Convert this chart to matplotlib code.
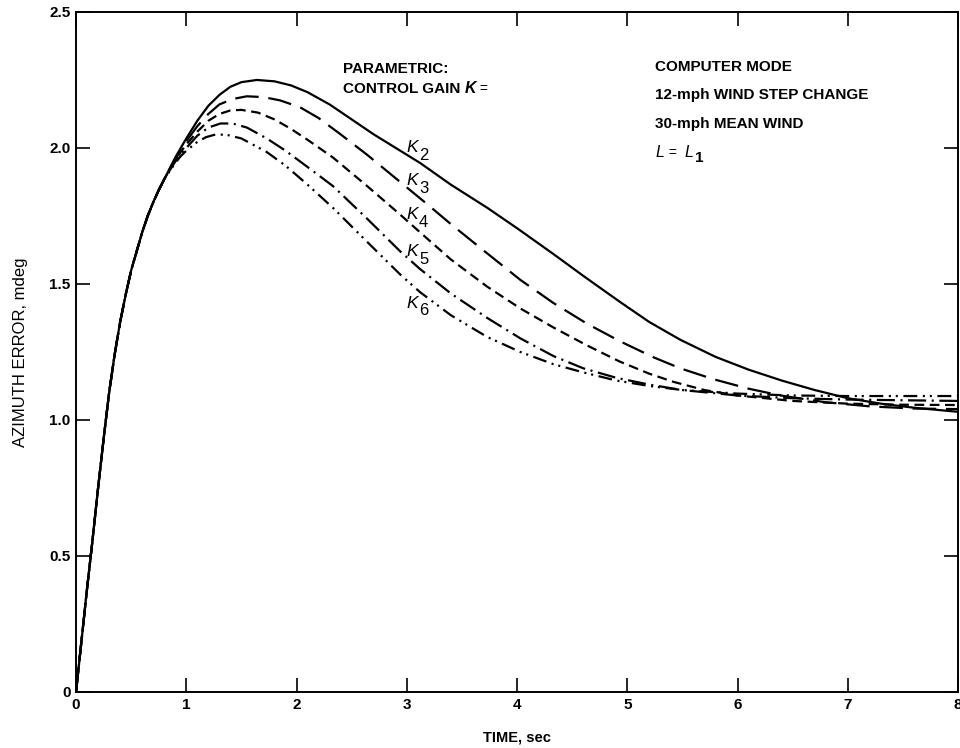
import numpy as np
import matplotlib
matplotlib.use('Agg')
import matplotlib.pyplot as plt

plt.rcParams['font.family'] = ['Liberation Sans', 'DejaVu Sans']
plt.rcParams['lines.scale_dashes'] = False

# common rising part (all gains overlap here)
rise_t = [0, 0.05, 0.1, 0.15, 0.2, 0.25, 0.3, 0.35, 0.4, 0.45, 0.5, 0.55, 0.6, 0.65,
          0.7, 0.75, 0.8]
rise_y = [0, 0.19, 0.38, 0.56, 0.75, 0.93, 1.1, 1.24, 1.36, 1.46, 1.55, 1.62, 1.69, 1.75,
          1.80, 1.845, 1.885]

k2_t = [0.85, 0.9, 0.95, 1.0, 1.1, 1.2, 1.3, 1.4, 1.5, 1.64, 1.8, 1.95, 2.1, 2.3, 2.5,
        2.7, 2.94, 3.12, 3.4, 3.73, 4.0, 4.33, 4.6, 4.93, 5.2, 5.48, 5.8, 6.1, 6.4, 6.7,
        7.0, 7.3, 7.6, 8.0]
k2_y = [1.925, 1.965, 2.0, 2.035, 2.10, 2.155, 2.195, 2.225, 2.242, 2.25, 2.245, 2.23,
        2.205, 2.16, 2.105, 2.05, 1.99, 1.945, 1.865, 1.78, 1.705, 1.61, 1.53, 1.435,
        1.36, 1.295, 1.232, 1.185, 1.145, 1.11, 1.08, 1.06, 1.045, 1.03]

k3_t = [0.85, 0.9, 0.95, 1.0, 1.1, 1.2, 1.3, 1.42, 1.55, 1.7, 1.85, 2.03, 2.2, 2.4,
        2.64, 2.94, 3.18, 3.4, 3.66, 4.03, 4.33, 4.63, 4.93, 5.24, 5.48, 5.78, 6.1, 6.39,
        6.8, 7.2, 7.6, 8.0]
k3_y = [1.923, 1.96, 1.993, 2.025, 2.08, 2.125, 2.16, 2.18, 2.19, 2.187, 2.175, 2.15,
        2.11, 2.05, 1.975, 1.875, 1.795, 1.72, 1.635, 1.515, 1.43, 1.355, 1.29, 1.23,
        1.19, 1.15, 1.115, 1.09, 1.065, 1.05, 1.042, 1.04]

k4_t = [0.85, 0.9, 0.95, 1.0, 1.1, 1.2, 1.3, 1.4, 1.5, 1.65, 1.8, 1.95, 2.1, 2.33,
        2.64, 2.94, 3.12, 3.4, 3.73, 4.03, 4.33, 4.63, 4.93, 5.2, 5.42, 5.7, 6.0, 6.5,
        7.0, 7.5, 8.0]
k4_y = [1.92, 1.955, 1.985, 2.013, 2.06, 2.10, 2.125, 2.138, 2.14, 2.13, 2.105, 2.07,
        2.03, 1.965, 1.86, 1.755, 1.69, 1.59, 1.49, 1.41, 1.34, 1.275, 1.215, 1.17,
        1.14, 1.11, 1.09, 1.07, 1.06, 1.056, 1.055]

k5_t = [0.85, 0.9, 0.95, 1.0, 1.1, 1.2, 1.31, 1.42, 1.55, 1.73, 1.9, 2.1, 2.33, 2.64,
        2.94, 3.12, 3.4, 3.73, 4.03, 4.33, 4.6, 4.9, 5.2, 5.5, 6.0, 6.5, 7.0, 8.0]
k5_y = [1.918, 1.95, 1.978, 2.0, 2.045, 2.075, 2.09, 2.09, 2.075, 2.035, 1.99, 1.93,
        1.86, 1.74, 1.62, 1.555, 1.465, 1.375, 1.30, 1.235, 1.19, 1.155, 1.13, 1.11,
        1.09, 1.08, 1.075, 1.07]

k6_t = [0.85, 0.9, 0.95, 1.0, 1.1, 1.18, 1.27, 1.37, 1.5, 1.73, 1.9, 2.1, 2.33, 2.64,
        2.94, 3.12, 3.4, 3.73, 4.03, 4.33, 4.6, 4.9, 5.2, 5.5, 6.0, 6.5, 7.0, 8.0]
k6_y = [1.915, 1.945, 1.97, 1.99, 2.022, 2.04, 2.05, 2.048, 2.035, 1.985, 1.935, 1.865,
        1.78, 1.655, 1.535, 1.47, 1.385, 1.305, 1.25, 1.205, 1.175, 1.145, 1.125, 1.11,
        1.097, 1.09, 1.088, 1.088]

gain_labels = ['2', '3', '4', '5', '6']
label_y = [2.0, 1.879, 1.754, 1.618, 1.43]

x_ticks = [0, 1, 2, 3, 4, 5, 6, 7, 8]
y_ticks = [0, 0.5, 1.0, 1.5, 2.0, 2.5]
y_tick_labels = ['0', '0.5', '1.0', '1.5', '2.0', '2.5']

series = [(k2_t, k2_y), (k3_t, k3_y), (k4_t, k4_y), (k5_t, k5_y), (k6_t, k6_y)]
styles = [(0, ()),
          (0, (17, 7)),
          (0, (7, 4)),
          (0, (13, 4, 1.5, 4)),
          (0, (10, 4, 1.5, 3.5, 1.5, 4))]

fig = plt.figure(figsize=(9.6, 7.48), dpi=100)
ax = fig.add_axes([0.0792, 0.0749, 0.9188, 0.9091])

for (t, y), ls in zip(series, styles):
    ax.plot(rise_t + t, rise_y + y, color='black', linewidth=1.6, linestyle=ls,
            solid_joinstyle='round')

ax.set_xlim(0, 8)
ax.set_ylim(0, 2.5)
ax.set_xticks(x_ticks)
ax.set_yticks(y_ticks)
ax.set_yticklabels(y_tick_labels)
ax.tick_params(direction='in', length=10, width=1.2, top=True, right=True,
               labelsize=11, pad=4)
for lab in ax.get_xticklabels() + ax.get_yticklabels():
    lab.set_fontweight('bold')
for sp in ax.spines.values():
    sp.set_linewidth(1.4)

ax.set_xlabel('TIME, sec', fontsize=10.5, fontweight='bold', labelpad=14)
ax.set_ylabel('AZIMUTH ERROR, mdeg', fontsize=12, labelpad=15)

txt_kw = dict(fontsize=11, fontweight='bold', va='center')
ax.text(2.42, 2.29, 'PARAMETRIC:', **txt_kw)
t1 = ax.text(2.42, 2.218, 'CONTROL GAIN ', **txt_kw)
t2 = ax.annotate('K', xy=(1, 0.5), xycoords=t1, va='center', fontsize=11.5,
                 style='italic', fontweight='bold')
ax.annotate(' =', xy=(1, 0.5), xycoords=t2, va='center', fontsize=10)

notes = ['COMPUTER MODE', '12-mph WIND STEP CHANGE', '30-mph MEAN WIND']
notes_y = [2.298, 2.195, 2.088]
for s, yy in zip(notes, notes_y):
    ax.text(5.25, yy, s, **txt_kw)

l1 = ax.text(5.26, 1.982, 'L', fontsize=11.5, style='italic', va='center')
l2 = ax.annotate(' =  ', xy=(1, 0.5), xycoords=l1, va='center', fontsize=10)
l3 = ax.annotate('L', xy=(1, 0.5), xycoords=l2, va='center', fontsize=11.5, style='italic')
ax.annotate('1', xy=(1, 0), xycoords=l3, xytext=(1.5, -3.5), textcoords='offset points',
            va='bottom', fontsize=11, fontweight='bold')

for g, yy in zip(gain_labels, label_y):
    k = ax.text(3.0, yy, 'K', fontsize=12.5, style='italic', va='center')
    ax.annotate(g, xy=(1, 0), xycoords=k, xytext=(0.5, -5.5), textcoords='offset points',
                va='bottom', fontsize=12)

fig.savefig('out.png', dpi=100)
